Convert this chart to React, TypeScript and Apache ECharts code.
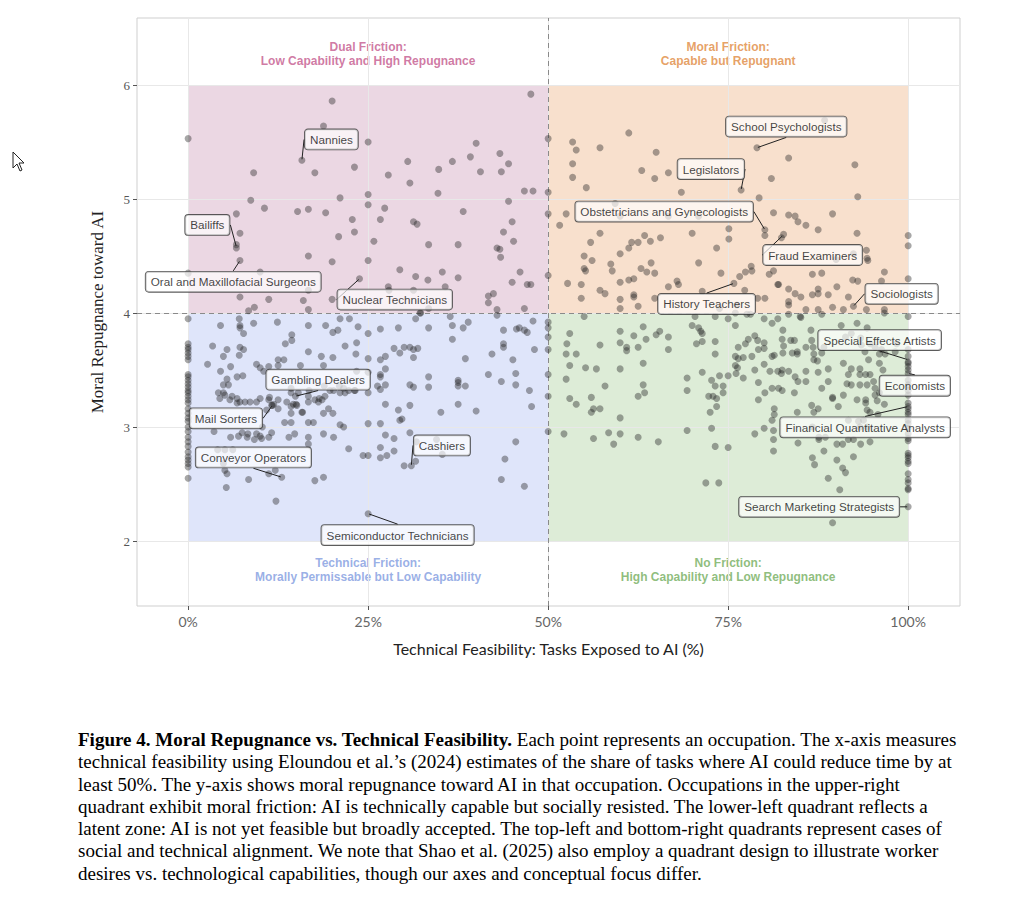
import React, { useEffect, useRef } from "react";
import * as echarts from "echarts";

// ---------- axis ticks ----------
const xTicks = [0, 25, 50, 75, 100];
const yTicks = [2, 3, 4, 5, 6];
const xThreshold = 50;
const yThreshold = 4;

// ---------- quadrants ----------
const quadrantNames = ["Dual Friction:", "Moral Friction:", "Technical Friction:", "No Friction:"];
const quadrantSubtitles = [
  "Low Capability and High Repugnance",
  "Capable but Repugnant",
  "Morally Permissable but Low Capability",
  "High Capability and Low Repugnance",
];
const quadrantXRange = [[0, 50], [50, 100], [0, 50], [50, 100]];
const quadrantYRange = [[4, 6], [4, 6], [2, 4], [2, 4]];
const quadrantTitleAt = [[25, 6.27], [75, 6.27], [25, 1.745], [75, 1.745]];

// ---------- occupations on the boundaries (x fixed) ----------
const zeroExposureY = [5.53, 4.35, 3.95, 3.73, 3.70, 3.68, 3.65, 3.62, 3.59, 3.46, 3.44, 3.41, 3.38, 3.35, 3.32, 3.30, 3.27, 3.24, 3.21, 3.16, 3.12, 3.08, 3.05, 3.00, 2.96, 2.91, 2.87, 2.83, 2.78, 2.74, 2.71, 2.68, 2.65, 2.55];
const halfExposureY = [5.53, 5.06, 4.87, 4.33, 3.92, 3.87, 3.79, 3.68, 3.46, 3.27, 2.96];
const fullExposureY = [4.68, 4.59, 4.30, 3.97, 3.68, 3.62, 3.57, 3.56, 3.53, 3.50, 3.47, 3.41, 3.37, 3.32, 3.28, 3.21, 3.18, 3.16, 3.13, 3.11, 3.06, 3.03, 2.99, 2.94, 2.90, 2.88, 2.77, 2.75, 2.73, 2.70, 2.68, 2.59, 2.54, 2.51, 2.46, 2.45, 2.30];

// ---------- occupations by quadrant: [exposure %, repugnance] ----------
const dualFriction = [
  [20.0, 5.86], [18.8, 5.64], [25.0, 5.50], [15.8, 5.34], [9.1, 5.23], [17.6, 5.23], [23.1, 5.28], [21.1, 5.01], [25.0, 5.04], [25.0, 4.95],
  [8.7, 4.99], [10.6, 4.92], [6.7, 4.87], [15.2, 4.89], [16.7, 4.91], [19.1, 4.88], [22.8, 4.82], [7.2, 4.70], [6.7, 4.60], [6.7, 4.57],
  [20.9, 4.67], [23.1, 4.71], [16.7, 4.50], [20.0, 4.45], [25.0, 4.46], [7.2, 4.46], [10.0, 4.36], [23.8, 4.30], [16.7, 4.20], [7.2, 4.14],
  [11.2, 4.12], [16.0, 4.11], [20.0, 4.12], [9.2, 4.05], [8.4, 4.02], [16.7, 4.03],
  [47.6, 5.92], [40.0, 5.49], [43.3, 5.40], [39.2, 5.37], [30.5, 5.33], [36.7, 5.33], [44.5, 5.31], [34.8, 5.26], [40.6, 5.24], [43.5, 5.24],
  [27.8, 5.21], [30.8, 5.14], [34.7, 5.05], [46.7, 5.07], [47.9, 5.07], [44.5, 4.98], [27.3, 4.92], [26.7, 4.82], [38.2, 4.89], [31.3, 4.80],
  [31.8, 4.78], [45.0, 4.80], [43.8, 4.71], [45.2, 4.63], [25.8, 4.63], [33.4, 4.60], [37.5, 4.60], [42.9, 4.57], [43.3, 4.56], [43.4, 4.49],
  [29.4, 4.38], [31.6, 4.32], [33.3, 4.29], [35.3, 4.36], [37.5, 4.31], [46.1, 4.36], [45.0, 4.27], [47.1, 4.25], [47.6, 4.25], [27.8, 4.23],
  [35.7, 4.23], [41.7, 4.15], [42.4, 4.17], [41.7, 4.09], [46.7, 4.04], [33.4, 4.04], [32.3, 4.00], [31.3, 4.20], [27.9, 4.20], [42.9, 4.03],
];

const moralFriction = [
  [53.4, 5.50], [53.9, 5.43], [57.2, 5.45], [61.2, 5.58], [53.4, 5.31], [53.4, 5.19], [55.3, 5.10], [65.0, 5.41], [63.0, 5.25], [64.8, 5.18],
  [66.7, 5.23], [68.5, 5.06], [52.5, 4.87], [51.6, 4.77], [57.2, 4.70], [55.9, 4.62], [63.4, 4.68], [65.6, 4.66], [64.2, 4.63], [61.6, 4.62],
  [62.5, 4.62], [61.2, 4.57], [60.0, 4.52], [55.0, 4.50], [56.1, 4.46], [58.7, 4.43], [58.9, 4.37], [55.0, 4.39], [55.2, 4.37], [64.3, 4.44],
  [62.9, 4.39], [63.7, 4.36], [64.8, 4.35], [70.0, 4.70], [75.1, 4.74], [75.1, 4.65], [73.4, 4.57], [70.9, 4.44], [74.0, 4.35], [52.7, 4.26],
  [54.6, 4.25], [54.6, 4.13], [57.2, 4.20], [57.9, 4.17], [60.0, 4.27], [61.2, 4.29], [61.9, 4.30], [61.9, 4.16], [61.9, 4.14], [60.0, 4.12],
  [60.0, 4.04], [62.5, 4.06], [64.8, 4.13], [66.7, 4.23], [67.9, 4.28], [68.1, 4.25], [71.4, 4.19], [75.8, 4.26], [60.0, 4.85], [66.7, 4.85],
  [70.9, 4.85], [59.3, 4.96],
  [79.0, 5.45], [83.4, 5.36], [92.6, 5.30], [81.0, 5.18], [76.8, 5.08], [93.0, 5.02], [79.3, 5.01], [81.3, 4.88], [83.4, 4.86], [84.3, 4.85],
  [84.7, 4.80], [85.8, 4.77], [87.5, 4.73], [89.5, 4.87], [80.1, 4.73], [80.1, 4.68], [82.7, 4.69], [82.4, 4.66], [92.9, 4.70], [94.2, 4.55],
  [94.4, 4.46], [94.3, 4.48], [92.4, 4.52], [90.0, 4.47], [78.2, 4.41], [78.3, 4.37], [77.4, 4.36], [76.6, 4.32], [77.3, 4.20], [81.3, 4.37],
  [80.7, 4.34], [86.7, 4.34], [88.0, 4.35], [96.7, 4.36], [81.9, 4.25], [83.4, 4.21], [84.3, 4.17], [85.1, 4.14], [86.7, 4.16], [87.5, 4.21],
  [87.5, 4.17], [88.9, 4.16], [90.1, 4.23], [91.7, 4.14], [92.3, 4.29], [93.0, 4.28], [96.3, 4.28], [92.4, 4.06], [80.1, 4.13], [79.1, 4.13],
  [83.4, 4.07], [83.4, 4.10], [85.8, 4.03], [87.5, 4.03], [89.5, 4.05], [91.0, 4.03], [94.2, 4.03], [96.7, 4.03], [96.7, 4.00], [88.4, 5.69],
  [76.2, 4.07], [73.8, 4.04], [82.0, 4.25],
];

const technicalFriction = [
  [7.1, 3.95], [7.2, 3.89], [7.2, 3.87], [4.5, 3.89], [7.7, 3.82], [9.1, 3.91], [12.4, 3.92], [14.4, 3.81], [14.4, 3.76], [13.5, 3.73],
  [16.7, 3.89], [19.1, 3.89], [20.1, 3.83], [21.1, 3.95], [22.4, 3.95], [20.8, 3.85], [23.6, 3.88], [3.4, 3.71], [5.4, 3.68], [7.2, 3.70],
  [7.7, 3.68], [4.9, 3.62], [7.1, 3.63], [12.5, 3.59], [13.3, 3.59], [16.7, 3.66], [18.5, 3.62], [20.1, 3.61], [21.8, 3.71], [23.4, 3.74],
  [23.3, 3.64], [2.7, 3.55], [5.9, 3.53], [9.5, 3.55], [10.0, 3.52], [10.5, 3.49], [11.2, 3.53], [12.5, 3.54], [15.6, 3.54], [18.8, 3.54],
  [4.5, 3.49], [6.8, 3.44], [7.6, 3.45], [5.4, 3.42], [4.9, 3.37], [5.6, 3.37], [4.9, 3.30], [4.2, 3.30], [5.1, 3.28], [6.1, 3.27],
  [4.4, 3.25], [6.8, 3.25], [5.8, 3.24], [10.0, 3.25], [11.2, 3.24], [9.5, 3.22], [8.6, 3.22], [7.9, 3.22], [7.2, 3.22], [6.8, 3.21],
  [11.6, 3.19], [12.5, 3.16], [13.7, 3.22], [14.6, 3.20], [14.3, 3.34], [14.3, 3.30], [15.3, 3.30], [16.7, 3.27], [16.7, 3.22], [17.6, 3.24],
  [18.2, 3.25], [14.3, 3.12], [15.1, 3.19], [15.9, 3.13], [14.3, 3.18], [18.8, 3.12], [19.5, 3.16], [20.1, 3.12], [19.0, 3.27], [20.2, 3.32],
  [21.1, 3.30], [21.8, 3.30], [23.2, 3.32], [13.4, 3.04], [14.3, 3.04], [16.7, 3.04], [17.4, 3.04], [21.1, 3.02], [21.6, 3.00], [20.2, 2.91],
  [18.8, 2.94], [16.7, 2.91], [16.7, 2.85], [14.8, 2.94], [14.0, 2.91], [11.6, 2.95], [11.2, 2.91], [10.2, 2.90], [9.2, 2.89], [8.2, 2.91],
  [7.5, 2.95], [7.0, 2.92], [5.9, 2.91], [3.6, 2.96], [22.3, 2.81], [4.1, 2.80], [5.1, 2.80], [6.2, 2.80], [4.9, 2.68], [5.1, 2.62],
  [5.4, 2.59], [8.4, 2.54], [11.2, 2.59], [12.1, 2.62], [13.0, 2.56], [17.6, 2.53], [18.8, 2.56], [5.3, 2.47], [12.2, 2.35], [25.0, 2.75],
  [24.3, 2.75], [25.0, 3.03], [22.3, 3.32], [23.1, 3.32], [21.6, 3.34], [21.0, 3.36], [19.7, 3.32], [18.9, 3.36], [18.6, 3.24], [18.1, 3.22],
  [16.8, 3.32], [15.0, 3.20], [15.8, 3.13], [12.5, 3.24], [11.9, 3.20], [11.3, 3.26], [10.9, 3.15], [11.7, 3.19], [10.3, 3.00], [9.5, 2.94],
  [10.0, 2.92], [8.3, 2.94], [23.4, 3.49], [14.9, 3.27],
  [31.6, 3.95], [32.2, 4.00], [25.0, 3.82], [26.7, 3.86], [29.2, 3.87], [33.4, 3.87], [36.4, 3.97], [36.7, 3.89], [38.2, 3.87], [38.9, 3.92],
  [36.7, 3.77], [42.9, 3.98], [43.8, 3.85], [45.6, 3.86], [46.0, 3.87], [46.7, 3.85], [47.1, 3.83], [47.9, 3.93], [28.6, 3.69], [29.4, 3.65],
  [30.0, 3.70], [30.8, 3.70], [31.3, 3.68], [31.9, 3.69], [31.3, 3.61], [25.0, 3.60], [26.7, 3.59], [27.4, 3.62], [38.5, 3.60], [42.2, 3.64],
  [43.8, 3.73], [43.8, 3.70], [45.1, 3.59], [48.1, 3.68], [27.4, 3.51], [26.7, 3.46], [26.7, 3.44], [27.4, 3.37], [26.3, 3.36], [26.7, 3.33],
  [25.0, 3.48], [25.0, 3.30], [30.8, 3.37], [31.3, 3.35], [33.4, 3.44], [33.4, 3.35], [37.5, 3.41], [37.5, 3.39], [37.5, 3.36], [38.5, 3.36],
  [41.7, 3.46], [43.5, 3.40], [45.5, 3.47], [45.5, 3.37], [47.4, 3.32], [47.7, 3.18], [27.4, 3.20], [30.8, 3.19], [29.2, 3.15], [35.1, 3.13],
  [37.5, 3.20], [40.0, 3.14], [29.4, 3.06], [29.7, 3.07], [26.7, 3.03], [30.8, 2.95], [27.4, 2.93], [28.6, 2.90], [26.7, 2.82], [28.6, 2.79],
  [27.6, 2.75], [26.7, 2.73], [30.0, 2.66], [31.0, 2.66], [31.6, 2.70], [35.3, 2.76], [45.5, 2.87], [44.0, 2.72], [43.5, 2.54], [46.7, 2.48],
  [25.0, 2.24], [31.7, 2.87], [34.5, 2.89],
];

const noFriction = [
  [55.0, 3.97], [53.0, 3.82], [52.6, 3.73], [52.5, 3.64], [53.9, 3.64], [53.0, 3.54], [52.5, 3.42], [53.0, 3.25], [53.9, 3.20], [52.2, 2.94],
  [55.2, 3.52], [56.7, 3.51], [57.2, 3.72], [57.9, 3.36], [56.0, 3.26], [56.0, 3.13], [56.3, 3.16], [57.2, 3.16], [56.3, 2.90], [58.4, 2.95],
  [59.1, 2.85], [60.0, 2.94], [60.0, 3.84], [60.0, 3.74], [60.9, 3.70], [60.9, 3.67], [61.9, 3.80], [62.5, 3.70], [63.6, 3.77], [63.2, 3.88],
  [65.0, 3.81], [65.5, 3.84], [66.7, 3.79], [66.7, 3.68], [60.0, 3.51], [63.2, 3.56], [63.2, 3.37], [63.4, 3.30], [62.5, 3.27], [60.0, 3.08],
  [62.5, 2.91], [65.3, 2.87], [69.3, 3.43], [69.3, 3.32], [69.3, 2.97], [70.0, 3.89], [70.9, 3.87], [71.2, 3.84], [71.4, 3.82], [70.6, 3.73],
  [71.4, 3.75], [71.4, 3.48], [72.7, 3.41], [73.2, 3.36], [72.3, 3.27], [72.9, 3.27], [73.4, 3.25], [73.4, 3.18], [74.3, 3.36], [74.3, 3.30],
  [72.5, 3.13], [72.7, 2.99], [73.2, 3.75], [73.2, 3.64], [73.2, 2.83], [75.0, 2.82], [71.9, 2.51], [73.7, 2.51], [73.8, 3.45], [75.0, 3.45],
  [75.0, 3.95], [70.4, 3.97], [73.2, 3.97], [76.0, 4.00], [78.1, 3.99], [80.0, 3.95], [83.4, 3.99], [85.1, 3.96],
  [76.0, 3.89], [76.0, 3.62], [76.4, 3.60], [77.1, 3.61], [76.4, 3.70], [77.4, 3.73], [77.1, 3.43], [76.1, 3.47], [76.0, 3.54], [76.3, 3.52],
  [77.8, 3.77], [78.7, 3.80], [79.1, 3.76], [79.2, 3.68], [80.0, 3.69], [78.3, 3.62], [78.7, 3.50], [79.2, 3.39], [80.0, 3.55], [80.8, 3.49],
  [81.1, 3.62], [81.4, 3.63], [81.9, 3.49], [82.4, 3.47], [82.5, 3.50], [79.2, 3.24], [80.1, 3.30], [81.1, 3.34], [82.0, 3.34], [82.5, 3.32],
  [81.4, 3.16], [81.4, 3.11], [81.1, 3.06], [78.7, 2.94], [80.0, 2.99], [81.3, 2.97], [81.3, 2.89], [81.3, 2.79], [82.6, 3.85], [82.5, 3.77],
  [83.7, 3.76], [84.2, 3.76], [83.4, 3.49], [84.3, 3.44], [84.7, 3.40], [84.2, 3.30], [84.6, 3.13], [84.7, 2.86], [82.6, 3.65], [82.7, 3.71],
  [83.9, 3.65], [84.6, 3.64], [84.6, 3.66], [85.8, 3.70], [86.5, 3.85], [86.6, 3.76], [86.8, 3.70], [86.9, 3.64], [86.9, 3.59], [87.4, 3.58],
  [88.0, 3.65], [88.3, 3.70], [85.8, 3.49], [85.8, 3.40], [87.5, 3.48], [88.0, 3.34], [88.9, 3.51], [88.9, 3.40], [89.5, 3.25], [90.3, 3.18],
  [86.6, 3.19], [86.9, 3.13], [87.5, 3.16], [86.7, 3.00], [87.6, 2.91], [88.5, 2.91], [87.6, 2.89], [86.7, 2.73], [87.0, 2.67], [88.3, 2.79],
  [88.9, 2.55], [90.1, 2.71], [90.5, 2.45], [90.9, 2.64], [91.3, 2.60], [92.4, 2.74], [90.9, 2.85], [90.1, 2.85], [91.7, 2.89], [92.4, 2.89],
  [93.4, 2.85], [94.7, 2.87], [89.5, 2.16],
  [90.7, 3.89], [92.9, 3.91], [94.3, 3.87], [92.1, 3.82], [91.3, 3.79], [93.4, 3.78], [94.7, 3.73], [95.4, 3.70], [96.0, 3.64], [96.8, 3.64],
  [96.3, 3.68], [94.0, 3.66], [93.5, 3.72], [91.0, 3.56], [92.1, 3.51], [91.7, 3.46], [93.3, 3.51], [93.3, 3.46], [94.1, 3.46], [94.7, 3.46],
  [94.5, 3.59], [96.0, 3.56], [96.5, 3.50], [91.5, 3.38], [92.1, 3.37], [93.3, 3.37], [94.3, 3.37], [95.2, 3.40], [95.4, 3.34], [96.0, 3.30],
  [95.4, 3.28], [94.1, 3.24], [94.1, 3.21], [92.9, 3.24], [96.7, 3.20], [95.7, 3.23], [94.3, 3.15], [94.7, 3.13], [95.8, 3.11], [91.0, 3.28],
  [89.5, 3.26], [91.7, 3.06], [93.1, 3.05], [93.8, 3.06], [93.3, 3.00], [94.3, 3.00], [98.2, 3.66], [98.4, 3.73], [80.0, 3.74], [81.1, 3.91],
  [81.9, 3.95], [85.0, 3.97], [88.0, 3.99], [77.6, 3.99],
];

// ---------- highlighted occupations ----------
const labeledNames = [
  "Nannies", "Bailiffs", "Oral and Maxillofacial Surgeons", "Nuclear Technicians", "School Psychologists", "Legislators",
  "Obstetricians and Gynecologists", "Fraud Examiners", "History Teachers", "Sociologists", "Special Effects Artists",
  "Economists", "Financial Quantitative Analysts", "Search Marketing Strategists", "Gambling Dealers", "Mail Sorters",
  "Conveyor Operators", "Cashiers", "Semiconductor Technicians",
];
const labeledX = [15.8, 6.7, 7.2, 23.8, 79.0, 76.8, 80.1, 82.6, 75.8, 92.4, 100, 100, 100, 100, 14.9, 11.7, 13.0, 31.0, 25.0];
const labeledY = [5.34, 4.58, 4.46, 4.30, 5.45, 5.08, 4.73, 4.68, 4.26, 4.06, 3.59, 3.47, 3.18, 2.30, 3.27, 3.19, 2.56, 2.66, 2.24];

// label box centre offsets from the point, in px (layout only)
const labelOffsets = [
  [29.5, -20.8], [-29, -22], [-6.7, 21.2], [35.3, 20.7], [29.3, -21.2], [-30.2, -20.8],
  [-100.7, -18.2], [29.8, 19.5], [-27.3, 20.6], [48.2, -12.4], [-28.5, -19.7],
  [6.7, 12.3], [-43, 20.8], [-89, 0], [22.7, -16.6], [-46.4, 13],
  [-28.3, -19.8], [30.6, -20.4], [29.5, 21.4],
];

const areaColors = ["#EBD7E3", "#F8E0CD", "#DFE5FA", "#DDECD7"];
const titleColors = ["#C4578C", "#E0893E", "#7F9BE0", "#72AD5C"];

function buildOption() {
  const points: number[][] = [
    ...zeroExposureY.map((y) => [0, y]),
    ...halfExposureY.map((y) => [xThreshold, y]),
    ...fullExposureY.map((y) => [100, y]),
    ...dualFriction,
    ...moralFriction,
    ...technicalFriction,
    ...noFriction,
  ];

  const areaData = quadrantNames.map((_, i) => [
    { xAxis: quadrantXRange[i][0], yAxis: quadrantYRange[i][0], itemStyle: { color: areaColors[i] } },
    { xAxis: quadrantXRange[i][1], yAxis: quadrantYRange[i][1] },
  ]);

  const gridLines = [
    ...xTicks.map((v) => ({ xAxis: v })),
    ...yTicks.map((v) => ({ yAxis: v })),
  ];

  const titleData = quadrantNames.map((n, i) => ({
    name: n + "\n" + quadrantSubtitles[i],
    value: quadrantTitleAt[i],
    label: { color: titleColors[i] },
  }));

  const labeledData = labeledNames.map((n, i) => ({ name: n, value: [labeledX[i], labeledY[i]] }));

  return {
    animation: false,
    backgroundColor: "#ffffff",
    grid: {
      left: 137,
      top: 18,
      width: 823,
      height: 588,
      show: true,
      borderColor: "#cfcfcf",
      borderWidth: 1,
      backgroundColor: "transparent",
      outerBoundsMode: "none",
      containLabel: false,
    },
    graphic: [
      {
        type: "polygon",
        shape: { points: [[13, 152], [13, 168], [17, 164], [20, 171], [22, 170], [19, 163], [24, 163]] },
        style: { fill: "#fff", stroke: "#222", lineWidth: 1 },
        z: 100,
      },
    ],
    xAxis: {
      type: "value",
      min: -7.1,
      max: 107.2,
      name: "Technical Feasibility: Tasks Exposed to AI (%)",
      nameLocation: "middle",
      nameGap: 34,
      nameTextStyle: { fontFamily: "Lato", fontSize: 16, color: "#222" },
      axisLine: { show: false, onZero: false },
      splitLine: { show: false },
      axisTick: { show: true, customValues: xTicks, length: 4, lineStyle: { color: "#555", width: 1 } },
      axisLabel: {
        customValues: xTicks,
        formatter: (v: number) => `${v}%`,
        fontFamily: "Lato",
        fontSize: 14,
        color: "#666",
        margin: 8,
      },
    },
    yAxis: {
      type: "value",
      min: 1.43,
      max: 6.588,
      name: "Moral Repugnance toward AI",
      nameLocation: "middle",
      nameGap: 31,
      nameTextStyle: { fontFamily: "Liberation Serif", fontSize: 17, color: "#222" },
      axisLine: { show: false, onZero: false },
      splitLine: { show: false },
      axisTick: { show: true, customValues: yTicks, length: 4, lineStyle: { color: "#555", width: 1 } },
      axisLabel: {
        customValues: yTicks,
        fontFamily: "Liberation Serif",
        fontSize: 13,
        color: "#555",
        margin: 7,
      },
    },
    series: [
      {
        type: "scatter",
        name: "areas",
        data: [],
        z: 1,
        silent: true,
        markArea: { silent: true, data: areaData },
      },
      {
        type: "scatter",
        name: "grid",
        data: [],
        z: 2,
        silent: true,
        markLine: {
          silent: true,
          symbol: ["none", "none"],
          label: { show: false },
          lineStyle: { color: "#e8e8e8", width: 1, type: "solid" },
          data: gridLines,
        },
      },
      {
        type: "scatter",
        name: "thresholds",
        data: [],
        z: 3,
        silent: true,
        markLine: {
          silent: true,
          symbol: ["none", "none"],
          label: { show: false },
          lineStyle: { color: "#8a8a8a", width: 1, type: [5, 4] },
          data: [{ xAxis: xThreshold }, { yAxis: yThreshold }],
        },
      },
      {
        type: "scatter",
        name: "titles",
        data: titleData,
        z: 4,
        silent: true,
        symbolSize: 0,
        label: {
          show: true,
          position: "inside",
          formatter: "{b}",
          fontFamily: "Liberation Sans",
          fontWeight: "bold",
          fontSize: 12,
          lineHeight: 14,
          align: "center",
        },
      },
      {
        type: "scatter",
        name: "occupations",
        data: points,
        z: 5,
        silent: true,
        symbolSize: 7,
        itemStyle: { color: "rgba(35,35,35,0.5)", borderWidth: 0 },
      },
      {
        type: "scatter",
        name: "labels",
        data: labeledData,
        z: 6,
        silent: true,
        symbolSize: 2,
        itemStyle: { color: "rgba(0,0,0,0)" },
        label: {
          show: true,
          formatter: "{b}",
          fontFamily: "Liberation Sans",
          fontSize: 11.7,
          color: "#111",
          backgroundColor: "rgba(255,255,255,0.85)",
          borderColor: "#333",
          borderWidth: 0.9,
          borderRadius: 3,
          padding: [4, 5, 4, 5],
        },
        labelLine: { show: true, lineStyle: { color: "#222", width: 1 } },
        labelLayout: (params: any) => {
          const off = labelOffsets[params.dataIndex] || [0, 0];
          const r = params.rect;
          return {
            x: r.x + r.width / 2 + off[0],
            y: r.y + r.height / 2 + off[1],
            align: "center",
            verticalAlign: "middle",
          };
        },
      },
    ],
  };
}

export default function App() {
  const ref = useRef<HTMLDivElement>(null);
  useEffect(() => {
    if (!ref.current) return;
    const chart = echarts.init(ref.current, null, { renderer: "svg" });
    chart.setOption(buildOption() as any);
    return () => chart.dispose();
  }, []);

  const captionLines = [
    "technical feasibility using Eloundou et al.\u2019s (2024) estimates of the share of tasks where AI could reduce time by at",
    "least 50%. The y-axis shows moral repugnance toward AI in that occupation. Occupations in the upper-right",
    "quadrant exhibit moral friction: AI is technically capable but socially resisted. The lower-left quadrant reflects a",
    "latent zone: AI is not yet feasible but broadly accepted. The top-left and bottom-right quadrants represent cases of",
    "social and technical alignment. We note that Shao et al. (2025) also employ a quadrant design to illustrate worker",
    "desires vs. technological capabilities, though our axes and conceptual focus differ.",
  ];

  return (
    <div style={{ position: "fixed", left: 0, top: 0, width: 1024, height: 899, background: "#fff", overflow: "hidden" }}>
      <div ref={ref} style={{ position: "absolute", left: 0, top: 0, width: 1024, height: 700 }} />
      <div
        style={{
          position: "absolute",
          left: 78,
          top: 729,
          fontFamily: '"Liberation Serif", "Times New Roman", serif',
          fontSize: 19,
          lineHeight: "22.3px",
          color: "#000",
          whiteSpace: "nowrap",
        }}
      >
        <div>
          <b>Figure 4. Moral Repugnance vs. Technical Feasibility.</b> Each point represents an occupation. The x-axis measures
        </div>
        {captionLines.map((l, i) => (
          <div key={i}>{l}</div>
        ))}
      </div>
    </div>
  );
}
